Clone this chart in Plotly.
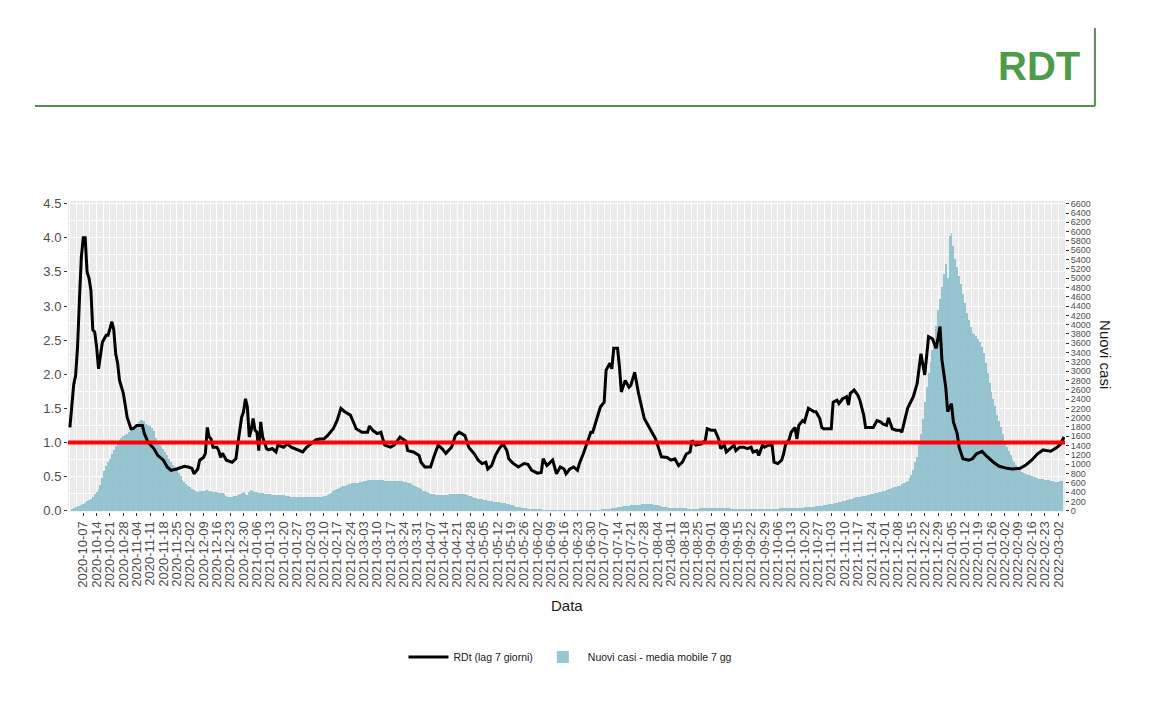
import pandas as pd
import plotly.graph_objects as go

# ---------------- data ----------------
base_date = "2020-10-01"

# RDt line: day offsets from base_date and values
rdt_days = [-1, 0, 1, 2, 3, 4, 5, 6, 7, 8, 9, 10, 11, 12, 13, 14, 15, 16, 18, 19, 21, 22, 23, 24, 25, 27, 29, 31, 32, 34,
            37, 38, 40, 43, 45, 48, 50, 52, 55, 59, 61, 63, 64, 66, 67, 69, 70, 71, 72, 73, 74, 76, 77, 78, 79, 81, 84, 86, 87, 89,
            90, 91, 92, 93, 94, 95, 96, 97, 98, 99, 100, 102, 103, 105, 107, 108, 111, 113, 115, 118, 121, 123, 126, 128, 130, 132, 134, 137, 139, 141,
            143, 146, 148, 149, 152, 155, 156, 158, 160, 162, 163, 164, 167, 169, 172, 175, 176, 179, 182, 183, 185, 188, 190, 191, 192, 194, 196, 199, 201, 203,
            206, 208, 211, 213, 215, 217, 218, 220, 222, 224, 226, 228, 229, 231, 234, 237, 239, 241, 244, 246, 247, 249, 251, 252, 254, 256, 258, 259, 261, 263,
            265, 266, 268, 270, 272, 273, 275, 277, 279, 280, 282, 283, 284, 286, 287, 288, 290, 292, 293, 295, 297, 299, 300, 303, 306, 307, 309, 312, 314, 316,
            318, 320, 322, 324, 325, 327, 330, 332, 333, 335, 337, 339, 340, 342, 343, 345, 347, 348, 350, 352, 354, 356, 357, 359, 360, 362, 363, 365, 367, 368,
            370, 372, 373, 374, 376, 377, 379, 380, 381, 383, 384, 386, 388, 389, 390, 392, 393, 394, 396, 398, 399, 401, 402, 404, 406, 407, 408, 410, 412, 413,
            415, 416, 418, 420, 422, 424, 425, 427, 428, 430, 432, 434, 435, 437, 438, 441, 443, 445, 447, 449, 451, 453, 455, 456, 458, 459, 461, 462, 464, 465,
            467, 470, 472, 474, 477, 479, 483, 486, 490, 493, 497, 500, 503, 506, 509, 511, 513, 516, 518, 520]
rdt_values = [1.22, 1.60, 1.85, 1.98, 2.40, 3.10, 3.72, 4.00, 4.00, 3.50, 3.41, 3.23, 2.65, 2.62, 2.40, 2.08, 2.25, 2.47, 2.57, 2.57, 2.77, 2.65, 2.30, 2.16, 1.91, 1.72, 1.37, 1.20, 1.20, 1.25,
              1.25, 1.13, 1.00, 0.91, 0.81, 0.74, 0.64, 0.59, 0.61, 0.65, 0.64, 0.62, 0.54, 0.61, 0.74, 0.78, 0.84, 1.22, 1.08, 1.05, 0.93, 0.93, 0.88, 0.78, 0.84, 0.74, 0.71, 0.76, 0.98, 1.37,
              1.45, 1.64, 1.52, 1.08, 1.18, 1.35, 1.18, 1.15, 0.88, 1.30, 1.08, 0.91, 0.89, 0.91, 0.86, 0.96, 0.93, 0.98, 0.93, 0.89, 0.86, 0.93, 1.00, 1.04, 1.05, 1.05, 1.10, 1.20, 1.32, 1.50,
              1.45, 1.40, 1.27, 1.20, 1.15, 1.15, 1.24, 1.17, 1.13, 1.15, 1.05, 0.96, 0.93, 0.96, 1.08, 1.02, 0.88, 0.86, 0.81, 0.71, 0.64, 0.64, 0.81, 0.88, 0.96, 0.91, 0.84, 0.93, 1.10, 1.15,
              1.10, 0.93, 0.83, 0.74, 0.69, 0.71, 0.61, 0.66, 0.81, 0.91, 0.98, 0.88, 0.76, 0.70, 0.64, 0.69, 0.68, 0.59, 0.55, 0.56, 0.76, 0.66, 0.71, 0.74, 0.54, 0.64, 0.61, 0.54, 0.61, 0.64,
              0.59, 0.69, 0.83, 0.98, 1.15, 1.15, 1.32, 1.52, 1.59, 2.06, 2.16, 2.08, 2.38, 2.38, 2.11, 1.74, 1.91, 1.81, 1.84, 2.03, 1.72, 1.47, 1.35, 1.20, 1.05, 0.96, 0.79, 0.78, 0.74, 0.76,
              0.66, 0.71, 0.83, 0.86, 1.03, 0.96, 0.98, 1.03, 1.20, 1.18, 1.18, 1.05, 0.91, 0.96, 0.86, 0.91, 0.96, 0.88, 0.93, 0.93, 0.91, 0.93, 0.86, 0.88, 0.81, 0.96, 0.93, 0.96, 0.96, 0.71,
              0.69, 0.74, 0.83, 0.96, 1.05, 1.15, 1.22, 1.05, 1.25, 1.32, 1.30, 1.50, 1.47, 1.45, 1.45, 1.35, 1.22, 1.20, 1.20, 1.20, 1.59, 1.62, 1.57, 1.64, 1.67, 1.55, 1.72, 1.77, 1.69, 1.62,
              1.40, 1.22, 1.22, 1.22, 1.32, 1.30, 1.27, 1.25, 1.36, 1.20, 1.18, 1.18, 1.15, 1.40, 1.50, 1.67, 1.86, 2.30, 1.99, 2.55, 2.52, 2.38, 2.70, 2.21, 1.81, 1.45, 1.57, 1.30, 1.13, 0.93,
              0.76, 0.74, 0.76, 0.83, 0.87, 0.81, 0.71, 0.65, 0.62, 0.61, 0.62, 0.67, 0.74, 0.83, 0.89, 0.88, 0.87, 0.92, 0.97, 1.08]

# New cases (7-day moving average), one value per day starting at base_date
cases_values = [
    45, 60, 80, 95, 110, 125, 145, 170, 200, 235,
    260, 300, 350, 395, 470, 560, 700, 850, 950, 1040,
    1120, 1220, 1300, 1390, 1470, 1520, 1560, 1600, 1620, 1650,
    1690, 1740, 1790, 1830, 1870, 1910, 1940, 1950, 1920, 1870,
    1840, 1810, 1770, 1720, 1560, 1450, 1410, 1370, 1330, 1260,
    1190, 1110, 1050, 990, 930, 870, 800, 740, 670, 620,
    580, 540, 500, 470, 440, 420, 410, 415, 420, 420,
    425, 440, 430, 420, 410, 400, 395, 390, 380, 370,
    350, 325, 300, 290, 295, 305, 320, 340, 360, 380,
    395, 360, 340, 400, 445, 430, 410, 395, 385, 375,
    370, 362, 358, 354, 350, 346, 342, 338, 335, 333,
    331, 328, 322, 316, 310, 304, 298, 294, 290, 290,
    290, 290, 290, 290, 290, 290, 290, 290, 290, 290,
    292, 300, 312, 325, 340, 358, 385, 415, 445, 470,
    492, 508, 525, 540, 555, 568, 576, 584, 591, 598,
    604, 610, 620, 630, 640, 650, 658, 662, 664, 665,
    663, 660, 656, 650, 645, 640, 636, 635, 638, 640,
    642, 644, 645, 635, 622, 612, 600, 585, 568, 550,
    530, 505, 480, 455, 432, 415, 398, 382, 366, 355,
    348, 342, 336, 330, 326, 326, 332, 340, 348, 356,
    360, 362, 364, 364, 362, 360, 350, 335, 318, 305,
    292, 280, 270, 260, 250, 240, 230, 220, 210, 200,
    197, 194, 190, 186, 181, 175, 166, 156, 146, 134,
    124, 112, 100, 88, 76, 68, 62, 56, 50, 45,
    40, 36, 34, 31, 29, 27, 25, 23, 21, 19,
    18, 17, 16, 15, 15, 15, 14, 14, 14, 14,
    14, 14, 14, 14, 14, 14, 15, 15, 15, 15,
    15, 16, 17, 18, 19, 20, 22, 23, 25, 27,
    29, 33, 40, 47, 54, 62, 70, 78, 85, 92,
    98, 103, 108, 112, 116, 120, 124, 128, 132, 136,
    139, 142, 144, 145, 140, 132, 122, 112, 102, 92,
    82, 74, 70, 66, 63, 60, 58, 56, 54, 52,
    50, 49, 47, 46, 45, 45, 45, 46, 46, 47,
    47, 47, 48, 48, 48, 49, 49, 49, 50, 50,
    50, 50, 49, 49, 48, 47, 46, 45, 45, 44,
    44, 43, 43, 42, 42, 41, 41, 40, 40, 40,
    40, 41, 41, 42, 43, 43, 44, 44, 45, 46,
    46, 47, 47, 48, 49, 49, 50, 52, 54, 56,
    58, 61, 64, 67, 70, 73, 77, 81, 85, 89,
    94, 99, 104, 108, 112, 120, 128, 136, 144, 152,
    160, 168, 177, 188, 200, 212, 224, 236, 248, 260,
    272, 285, 292, 300, 308, 316, 325, 334, 343, 352,
    360, 372, 384, 396, 408, 420, 432, 445, 458, 472,
    486, 500, 514, 528, 540, 565, 590, 615, 645, 700,
    770, 880, 1050, 1150, 1420, 1650, 1980, 2330, 2650, 2950,
    3200, 3450, 3700, 3980, 4310, 4550, 4800, 5100, 5300, 5000,
    5900, 5980, 5700, 5420, 5250, 5050, 4880, 4650, 4460, 4250,
    4100, 3950, 3830, 3790, 3750, 3700, 3620, 3520, 3380, 3180,
    2950, 2750, 2560, 2400, 2240, 2060, 1930, 1790, 1650, 1500,
    1360, 1280, 1190, 1120, 1050, 980, 930, 885, 840, 815,
    795, 775, 757, 745, 732, 718, 704, 690, 682, 675,
    668, 660, 650, 642, 634, 622, 612, 615, 630, 640,
]

threshold = 1.0
rdt_ticks = [0.0, 0.5, 1.0, 1.5, 2.0, 2.5, 3.0, 3.5, 4.0, 4.5]
cases_ticks = list(range(0, 6601, 200))
first_tick_date = "2020-10-07"
last_tick_date = "2022-03-02"

# ---------------- build ----------------
base = pd.Timestamp(base_date)
rdt_dates = [base + pd.Timedelta(days=d) for d in rdt_days]
cases_dates = [base + pd.Timedelta(days=i) for i in range(len(cases_values))]
x_ticks = list(pd.date_range(first_tick_date, last_tick_date, freq="7D"))

FONT = "Liberation Sans, Arial, sans-serif"
GREY = "#4D4D4D"
DAY = 86400000

fig = go.Figure()
fig.add_trace(go.Bar(
    x=cases_dates, y=cases_values, name="Nuovi casi - media mobile 7 gg",
    marker=dict(color="rgba(135,188,203,0.85)", line=dict(width=0)),
    yaxis="y", legendrank=2,
))
fig.add_trace(go.Scatter(
    x=rdt_dates, y=rdt_values, mode="lines", name="RDt (lag 7 giorni)",
    line=dict(color="black", width=3), yaxis="y2", legendrank=1,
))

fig.add_shape(type="line", xref="paper", x0=0, x1=1, yref="y2", y0=threshold, y1=threshold,
              line=dict(color="#FF0000", width=4), layer="above")

# header decoration
fig.add_shape(type="line", xref="paper", yref="paper", x0=-0.0331, x1=1.030, y0=1.3055, y1=1.3055,
              line=dict(color="#5b8a52", width=2))
fig.add_shape(type="line", xref="paper", yref="paper", x0=1.030, x1=1.030, y0=1.3055, y1=1.556,
              line=dict(color="#5b8a52", width=2))

fig.add_annotation(text="<b>RDT</b>", xref="paper", yref="paper", x=1.017, y=1.434,
                   xanchor="right", yanchor="middle", showarrow=False,
                   font=dict(family=FONT, size=40, color="#4e9b4b"))
fig.add_annotation(text="Data", xref="paper", yref="paper", x=0.5005, y=-0.302,
                   xanchor="center", yanchor="middle", showarrow=False,
                   font=dict(family=FONT, size=15, color="#1a1a1a"))
fig.add_annotation(text="Nuovi casi", xref="paper", yref="paper", x=1.040, y=0.505,
                   xanchor="center", yanchor="middle", showarrow=False, textangle=90,
                   font=dict(family=FONT, size=15, color="#1a1a1a"))

fig.update_layout(
    width=1142, height=702,
    margin=dict(l=60, r=85, t=193, b=198),
    paper_bgcolor="white", plot_bgcolor="#EBEBEB",
    font=dict(family=FONT, color=GREY),
    bargap=0,
    showlegend=True,
    legend=dict(orientation="h", x=0.504, xanchor="center", y=-0.466, yanchor="middle",
                font=dict(family=FONT, size=10.5, color="#1a1a1a"), bgcolor="rgba(0,0,0,0)",
                itemwidth=40),
    xaxis=dict(
        type="date", range=["2020-09-29", "2022-03-05 12:00"],
        tickmode="array", tickvals=x_ticks, tickformat="%Y-%m-%d", tickangle=-90,
        ticks="outside", ticklen=3, tickcolor="#333333", tickwidth=1,
        tickfont=dict(family=FONT, size=13, color=GREY),
        showgrid=True, gridcolor="white", gridwidth=1.1,
        minor=dict(tickmode="linear", tick0=first_tick_date, dtick=3.5 * DAY,
                   showgrid=True, gridcolor="white", gridwidth=0.5),
        zeroline=False, showline=False,
    ),
    yaxis=dict(
        side="right", range=[-29, 6659], tickvals=cases_ticks,
        ticks="outside", ticklen=3, tickcolor="#333333",
        tickfont=dict(family=FONT, size=9, color=GREY),
        showgrid=False, zeroline=False, showline=False,
    ),
    yaxis2=dict(
        overlaying="y", side="left", range=[-0.02, 4.54], tickvals=rdt_ticks, tickformat=".1f",
        ticks="outside", ticklen=3, tickcolor="#333333",
        tickfont=dict(family=FONT, size=13, color=GREY),
        showgrid=True, gridcolor="white", gridwidth=1.1,
        minor=dict(dtick=0.25, tick0=0, showgrid=True, gridcolor="white", gridwidth=0.5),
        zeroline=False, showline=False,
    ),
)

fig.write_html("out.html")
